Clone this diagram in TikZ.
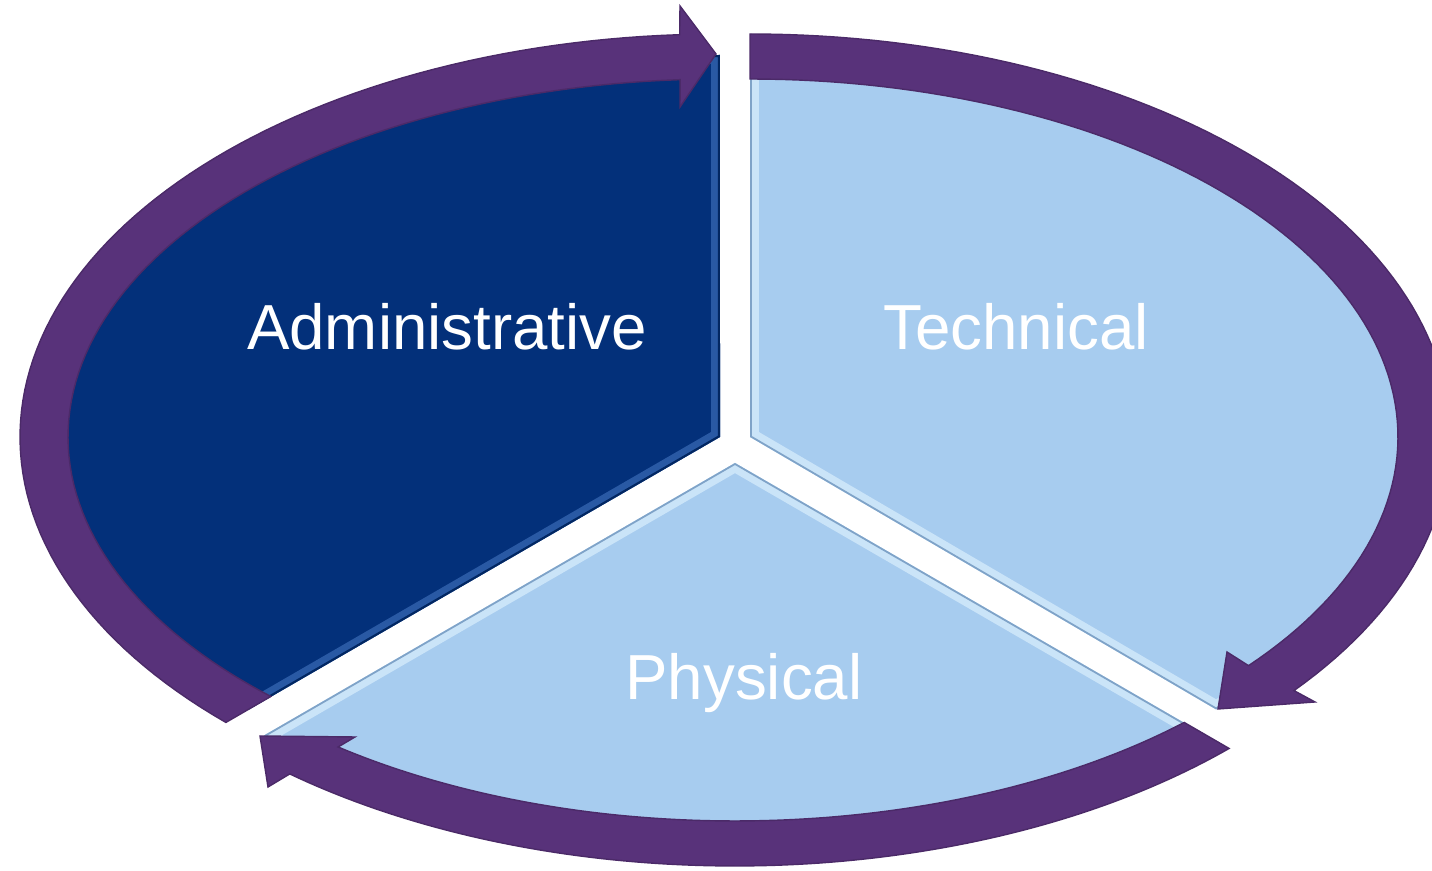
\documentclass[tikz,border=0pt]{standalone}
\usepackage{fontspec}
\setmainfont{Liberation Sans}
\definecolor{ringpurple}{HTML}{58327A}
\definecolor{admblue}{HTML}{03307A}
\definecolor{admrim}{HTML}{4A7BC8}
\definecolor{lightblue}{HTML}{A7CCEF}
\definecolor{lightrim}{HTML}{E2F4FF}
\definecolor{lightedge}{HTML}{7FA3C8}
\tikzset{
  ringarrow/.style={fill=ringpurple, draw=ringpurple!85!black, line width=0.4pt, line join=miter},
  segtext/.style={text=white, font=\fontsize{18.1pt}{21pt}\selectfont, inner sep=0pt, anchor=base},
  arcplot/.style={domain=#1, samples=90, variable=\t}
}
\def\admpath{(720,437) -- plot[arcplot=134.5:270] ({720+672*cos(\t)},{437+382*sin(\t)}) -- cycle}
\def\techpath{(750,437) -- plot[arcplot=-90:45.5] ({750+665*cos(\t)},{437+382*sin(\t)}) -- cycle}
\def\physpath{(735,463) -- plot[arcplot=45.5:134.5] ({735+672*cos(\t)},{463+382*sin(\t)}) -- cycle}
\begin{document}
\begin{tikzpicture}[x=0.01cm,y=-0.01cm]
\useasboundingbox (0,0) rectangle (1432,871);
% --- pie wedges ---
\fill[admblue] \admpath;
\begin{scope}
  \clip \admpath;
  \draw[admrim, line width=5pt, opacity=0.55] \admpath;
  \draw[admblue!80!black, line width=1.2pt] \admpath;
\end{scope}
\fill[lightblue] \techpath;
\begin{scope}
  \clip \techpath;
  \draw[lightrim, line width=5pt, opacity=0.6] \techpath;
  \draw[lightedge, line width=1pt] \techpath;
\end{scope}
\fill[lightblue] \physpath;
\begin{scope}
  \clip \physpath;
  \draw[lightrim, line width=5pt, opacity=0.6] \physpath;
  \draw[lightedge, line width=1pt] \physpath;
\end{scope}
% --- curved arrows ---
\fill[ringarrow] plot[arcplot=134.9:266.7] ({720+700*cos(\t)},{437+403*sin(\t)})
  -- (680,6) -- (716,54) -- (680,107)
  -- plot[arcplot=266.5:133.55] ({720+652*cos(\t)},{437+358*sin(\t)}) -- cycle;
\fill[ringarrow] plot[arcplot=-90:39.0] ({750+700*cos(\t)},{437+403*sin(\t)})
  -- (1315,702) -- (1218,709) -- (1227,652)
  -- plot[arcplot=39.7:-90] ({750+648*cos(\t)},{437+358*sin(\t)}) -- cycle;
\fill[ringarrow] plot[arcplot=45.1:129.5] ({735+700*cos(\t)},{463+403*sin(\t)})
  -- (268,787) -- (260,736) -- (355,737)
  -- plot[arcplot=127.5:46.45] ({735+652*cos(\t)},{463+358*sin(\t)}) -- cycle;
% --- labels ---
\node[segtext] (adm) at (447,350) {Administrative};
\node[segtext] (tech) at (1016,350) {Technical};
\node[segtext] (phys) at (744,700) {Physical};
\end{tikzpicture}
\end{document}
